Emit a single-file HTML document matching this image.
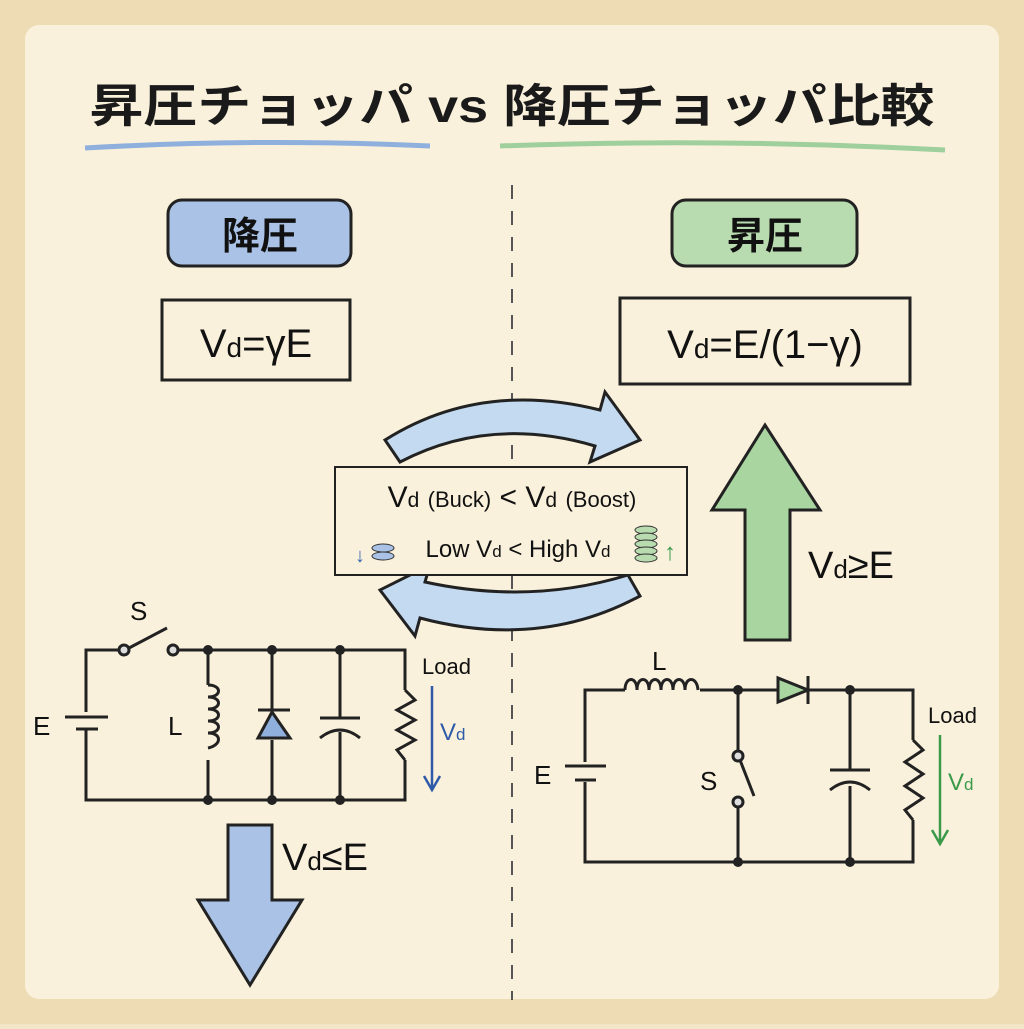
<!DOCTYPE html><html><head><meta charset="utf-8"><style>
body{margin:0;width:1024px;height:1024px;background:#f3e6c8;font-family:"Liberation Sans","Noto Sans CJK JP",sans-serif;overflow:hidden}
</style></head><body>
<svg width="1024" height="1024" viewBox="0 0 1024 1024" xmlns="http://www.w3.org/2000/svg" font-family="Liberation Sans, Noto Sans CJK JP, sans-serif">
<rect width="1024" height="1024" fill="#eedcb4"/>
<rect x="25" y="25" width="974" height="974" rx="14" fill="#faf1dc"/>
<text x="512" y="122" font-size="46" font-weight="bold" text-anchor="middle" fill="#1a1a1a" textLength="845" lengthAdjust="spacingAndGlyphs">昇圧チョッパ vs 降圧チョッパ比較</text>
<path d="M85 148 Q260 138 430 146" stroke="#8fb0dd" stroke-width="5" fill="none"/>
<path d="M500 146 Q720 138 945 150" stroke="#9fcf9c" stroke-width="5" fill="none"/>
<line x1="512" y1="185" x2="512" y2="1000" stroke="#555" stroke-width="2" stroke-dasharray="14 12"/>
<rect x="168" y="200" width="183" height="66" rx="14" fill="#a9c2e6" stroke="#222" stroke-width="3"/>
<text x="260" y="249" font-size="38" font-weight="bold" text-anchor="middle" fill="#111">降圧</text>
<rect x="672" y="200" width="185" height="66" rx="14" fill="#b8dcb0" stroke="#222" stroke-width="3"/>
<text x="765" y="249" font-size="38" font-weight="bold" text-anchor="middle" fill="#111">昇圧</text>
<rect x="162" y="300" width="188" height="80" fill="#faf1dc" stroke="#222" stroke-width="3"/>
<text x="256" y="357" font-size="40" text-anchor="middle" fill="#111">V<tspan font-size="28">d</tspan>=γE</text>
<rect x="620" y="298" width="290" height="86" fill="#faf1dc" stroke="#222" stroke-width="3"/>
<text x="765" y="358" font-size="40" text-anchor="middle" fill="#111">V<tspan font-size="28">d</tspan>=E/(1−γ)</text>
<path d="M385 440 Q480 380 600 410 L605 392 L640 440 L590 462 L595 446 Q490 415 400 462 Z" fill="#c3daf0" stroke="#222" stroke-width="3"/>
<path d="M640 596 Q540 650 420 618 L415 636 L380 590 L430 565 L425 582 Q530 605 628 575 Z" fill="#c3daf0" stroke="#222" stroke-width="3"/>
<rect x="335" y="467" width="352" height="108" fill="#faf1dc" stroke="#222" stroke-width="2"/>
<text x="512" y="507" font-size="30" text-anchor="middle" fill="#111">V<tspan font-size="21">d</tspan> <tspan font-size="22">(Buck)</tspan> &lt; V<tspan font-size="21">d</tspan> <tspan font-size="22">(Boost)</tspan></text>
<text x="518" y="557" font-size="24" text-anchor="middle" fill="#111">Low V<tspan font-size="17">d</tspan> &lt; High V<tspan font-size="17">d</tspan></text>
<text x="355" y="562" font-size="20" fill="#3a66b0">↓</text>
<ellipse cx="383" cy="548" rx="11" ry="4" fill="#a9c2e6" stroke="#333"/><ellipse cx="383" cy="556" rx="11" ry="4" fill="#a9c2e6" stroke="#333"/>
<g fill="#b8dcb0" stroke="#333"><ellipse cx="646" cy="530" rx="11" ry="4"/><ellipse cx="646" cy="537" rx="11" ry="4"/><ellipse cx="646" cy="544" rx="11" ry="4"/><ellipse cx="646" cy="551" rx="11" ry="4"/><ellipse cx="646" cy="558" rx="11" ry="4"/></g>
<text x="664" y="560" font-size="24" fill="#3a9a4a">↑</text>
<path d="M745 640 L745 510 L712 510 L765 425 L820 510 L790 510 L790 640 Z" fill="#a8d5a0" stroke="#222" stroke-width="3"/>
<text x="808" y="578" font-size="38" fill="#111">V<tspan font-size="26">d</tspan>≥E</text>
<path d="M228 825 L272 825 L272 900 L302 900 L250 985 L198 900 L228 900 Z" fill="#a9c2e6" stroke="#222" stroke-width="3"/>
<text x="282" y="870" font-size="38" fill="#111">V<tspan font-size="26">d</tspan>≤E</text>
<g stroke="#222" stroke-width="3" fill="none">
<path d="M125 650 L86 650 L86 712 M86 730 L86 800 L405 800 L405 760 M405 690 L405 650 L178 650"/>
<line x1="65" y1="717" x2="108" y2="717"/><line x1="76" y1="729" x2="98" y2="729"/>
<line x1="129" y1="648" x2="167" y2="628"/>
<circle cx="124" cy="650" r="5" fill="#ddd"/><circle cx="173" cy="650" r="5" fill="#ddd"/>
<path d="M208 650 L208 685 M208 760 L208 800"/>
<path d="M208 685 c14 0 14 12 0 12 c14 0 14 12 0 12 c14 0 14 12 0 12 c14 0 14 12 0 12 c14 0 14 12 0 15"/>
<path d="M272 650 L272 712 M272 740 L272 800"/>
<line x1="258" y1="710" x2="290" y2="710"/>
<path d="M258 738 L290 738 L272 712 Z" fill="#8fb0dd"/>
<path d="M340 650 L340 718 M340 732 L340 800"/>
<line x1="320" y1="718" x2="360" y2="718"/><path d="M320 738 Q340 722 360 738"/>
<path d="M405 690 L415 700 L397 710 L415 720 L397 730 L415 740 L397 750 L405 760"/>
</g>
<g fill="#222"><circle cx="208" cy="650" r="5"/><circle cx="272" cy="650" r="5"/><circle cx="340" cy="650" r="5"/><circle cx="208" cy="800" r="5"/><circle cx="272" cy="800" r="5"/><circle cx="340" cy="800" r="5"/></g>
<text x="130" y="620" font-size="26" fill="#111">S</text>
<text x="33" y="735" font-size="26" fill="#111">E</text>
<text x="168" y="735" font-size="26" fill="#111">L</text>
<text x="422" y="674" font-size="22" fill="#111">Load</text>
<path d="M432 686 L432 788 M424 776 L432 790 L440 776" stroke="#2e5aa8" stroke-width="2.5" fill="none"/>
<text x="440" y="740" font-size="24" fill="#2e5aa8">V<tspan font-size="17">d</tspan></text>
<g stroke="#222" stroke-width="3" fill="none">
<path d="M625 690 L585 690 L585 762 M585 782 L585 862 L913 862 L913 820 M913 740 L913 690 L808 690 M778 690 L700 690"/>
<line x1="565" y1="766" x2="606" y2="766"/><line x1="575" y1="780" x2="596" y2="780"/>
<path d="M625 690 c0 -14 12 -14 12 0 c0 -14 12 -14 12 0 c0 -14 12 -14 12 0 c0 -14 12 -14 12 0 c0 -14 12 -14 12 0 c0 -14 12 -14 13 0"/>
<path d="M778 678 L778 702 L808 690 Z" fill="#a8d5a0"/><line x1="808" y1="676" x2="808" y2="704"/>
<path d="M738 690 L738 752 M738 805 L738 862"/>
<circle cx="738" cy="756" r="5" fill="#ddd"/><circle cx="738" cy="802" r="5" fill="#ddd"/>
<line x1="740" y1="760" x2="754" y2="796"/>
<path d="M850 690 L850 770 M850 786 L850 862"/>
<line x1="830" y1="770" x2="870" y2="770"/><path d="M830 790 Q850 774 870 790"/>
<path d="M913 740 L923 750 L905 762 L923 774 L905 786 L923 798 L905 810 L913 820"/>
</g>
<g fill="#222"><circle cx="738" cy="690" r="5"/><circle cx="850" cy="690" r="5"/><circle cx="738" cy="862" r="5"/><circle cx="850" cy="862" r="5"/></g>
<text x="652" y="670" font-size="26" fill="#111">L</text>
<text x="534" y="784" font-size="26" fill="#111">E</text>
<text x="700" y="790" font-size="26" fill="#111">S</text>
<text x="928" y="723" font-size="22" fill="#111">Load</text>
<path d="M940 735 L940 842 M932 830 L940 844 L948 830" stroke="#3a9a4a" stroke-width="2.5" fill="none"/>
<text x="948" y="790" font-size="24" fill="#3a9a4a">V<tspan font-size="17">d</tspan></text>
</svg>
</body></html>
